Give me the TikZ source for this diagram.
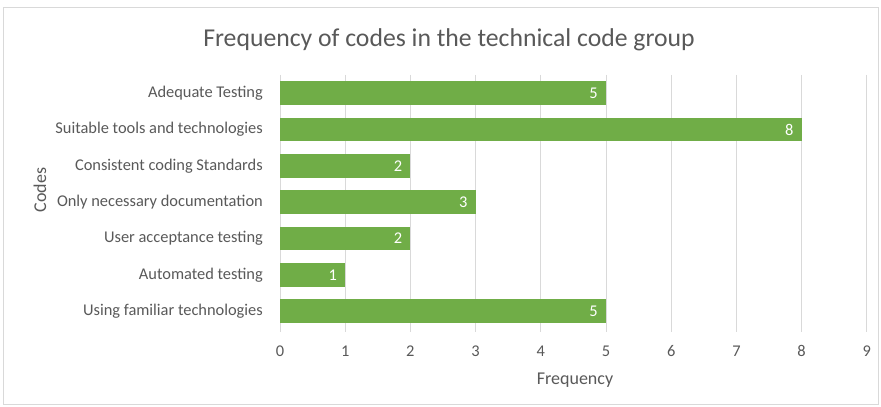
\documentclass[tikz,border=0pt]{standalone}
\usepackage{fontspec}
\setmainfont{Carlito}
\definecolor{barfill}{HTML}{70AD47}
\definecolor{txt}{HTML}{595959}
\definecolor{gridc}{HTML}{D9D9D9}
\definecolor{framec}{HTML}{D9D9D9}
\begin{document}
\begin{tikzpicture}[x=1pt,y=1pt,
  bar/.style={fill=barfill,draw=none},
  gridline/.style={draw=gridc,line width=0.9pt},
  catlabel/.style={anchor=east,text=txt,font=\fontsize{16.4}{18}\selectfont,inner sep=0pt},
  ticklabel/.style={anchor=center,text=txt,font=\fontsize{16.4}{18}\selectfont,inner sep=0pt},
  vallabel/.style={anchor=east,text=white,font=\fontsize{16.4}{18}\selectfont,inner sep=0pt},
  axistitle/.style={text=txt,font=\fontsize{18}{20}\selectfont,inner sep=0pt},
  charttitle/.style={text=txt,font=\fontsize{25.7}{28}\selectfont,inner sep=0pt}]
% canvas and chart frame
\useasboundingbox (0,0) rectangle (881,407);
\fill[white] (0,0) rectangle (881,407);
\draw[framec,line width=0.8pt] (3,3) rectangle (878,400);
% vertical gridlines and tick labels
\foreach \v in {0,...,9}{
  \draw[gridline] ({280+65.2*\v},332) -- ({280+65.2*\v},75);
  \node[ticklabel] (t\v) at ({280+65.2*\v},56) {\v};
}
% bars with category labels and values
\foreach \i/\val/\lab in {0/5/{Adequate Testing },1/8/{Suitable tools and technologies},2/2/{Consistent coding Standards},3/3/{Only necessary documentation},4/2/{User acceptance testing},5/1/{Automated testing},6/5/{Using familiar technologies}}{
  \pgfmathsetmacro{\yc}{407-(93.3+36.3*\i)}
  \fill[bar] (280,\yc-11.8) rectangle ({280+65.2*\val},\yc+11.8);
  \node[catlabel] (c\i) at (263,\yc) {\lab};
  \node[vallabel] (v\i) at ({280+65.2*\val-8},\yc) {\val};
}
% titles
\node[charttitle] (title) at (449,367) {Frequency of codes in the technical code group};
\node[axistitle] (xt) at (575,27) {Frequency};
\node[axistitle,rotate=90] (yt) at (40,217) {Codes};
\end{tikzpicture}
\end{document}
